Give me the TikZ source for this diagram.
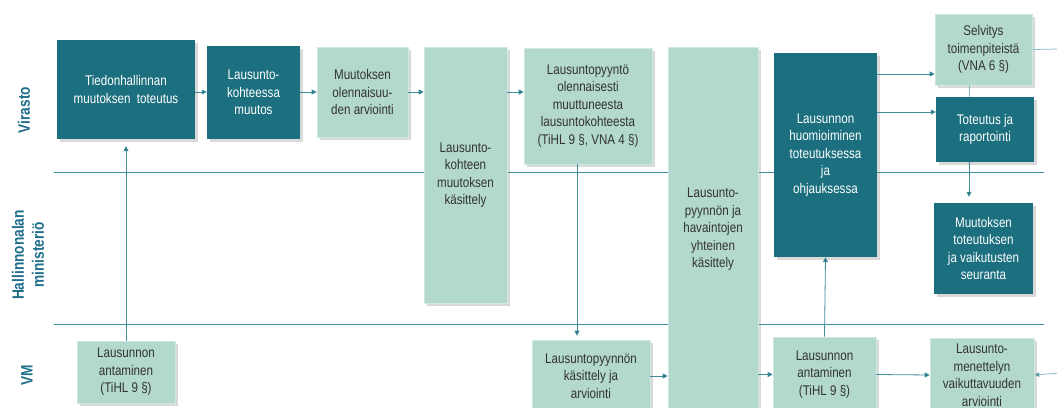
\documentclass[tikz,border=0pt]{standalone}
\usepackage{fontspec}
\setmainfont{Liberation Sans}[FakeStretch=0.83]
\usepackage{tikz}
\usetikzlibrary{arrows.meta,shadows,positioning}
\definecolor{tealdark}{HTML}{1B6F7E}
\definecolor{mint}{HTML}{B3D8CC}
\definecolor{lanecol}{HTML}{1F6E8A}
\definecolor{flowcol}{HTML}{3F8C9A}
\definecolor{palecol}{HTML}{8CBFC8}
\definecolor{boxtext}{HTML}{333333}
\def\BoxFont{\fontsize{14}{17.5}\selectfont}
\def\LaneFont{\fontsize{16.5}{20}\selectfont\bfseries}

\begin{document}
\begin{tikzpicture}[x=1pt,y=-1pt,
	box/.style={minimum width=#1,align=center,inner sep=0pt,font=\BoxFont,
		drop shadow={shadow xshift=2.5pt,shadow yshift=-2.5pt,opacity=0.3}},
	darkbox/.style={box=#1,fill=tealdark,text=white},
	lightbox/.style={box=#1,fill=mint,text=boxtext,draw=mint!60!white,line width=0.6pt},
	lane/.style={text=lanecol,font=\LaneFont,rotate=90,align=center},
	link/.style={draw=flowcol,line width=0.8pt},
	flow/.style={link,-{Triangle[length=5pt,width=5pt]},arrows={[fill=tealdark]}},
	]
	\useasboundingbox (0,0) rectangle (1057,407);
	% lanes
	\coordinate (l1a) at (54,172);
	\coordinate (l1b) at (1044,172);
	\coordinate (l2a) at (54,324);
	\coordinate (l2b) at (1044,324);
	\draw[link] (l1a) -- (l1b);
	\draw[link] (l2a) -- (l2b);
	\node[lane] (virasto) at (24,110) {Virasto};
	\node[lane] (ministerio) at (28,255) {Hallinnonalan\\ministeriö};
	\node[lane] (vm) at (27,375) {VM};
	% 
	\node[darkbox=138pt,minimum height=99pt] (tiedon) at (126,89.5) {Tiedonhallinnan\\muutoksen\ \ toteutus};
	\node[darkbox=93pt,minimum height=93pt] (kohteessa) at (253.5,92.5) {Lausunto-\\kohteessa\\muutos};
	\node[lightbox=91pt,minimum height=90pt] (olenn) at (362.5,92) {Muutoksen\\olennaisuu-\\den arviointi};
	\node[lightbox=83pt,minimum height=256pt] (kohteen) at (465.5,175) {Lausunto-\\kohteen\\muutoksen\\käsittely};
	\node[lightbox=128pt,minimum height=116pt] (pyynto) at (588,106) {Lausuntopyyntö\\olennaisesti\\muuttuneesta\\lausuntokohteesta\\(TiHL 9 §, VNA 4 §)};
	\node[lightbox=90pt,minimum height=365pt] (yhteinen) at (713,229.5) {Lausunto-\\pyynnön ja\\havaintojen\\yhteinen\\käsittely};
	\node[darkbox=103pt,minimum height=204pt] (huomio) at (825.5,155) {Lausunnon\\huomioiminen\\toteutuksessa\\ja\\ohjauksessa};
	\node[lightbox=97pt,minimum height=71pt] (selvitys) at (983.5,49.5) {Selvitys\\toimenpiteistä\\(VNA 6 §)};
	\node[darkbox=98pt,minimum height=65pt] (toteutus) at (985,129.5) {Toteutus ja\\raportointi};
	\node[darkbox=99pt,minimum height=91pt] (seuranta) at (983.5,248.5) {Muutoksen\\toteutuksen\\ja vaikutusten\\seuranta};
	% VM lane
	\node[lightbox=98pt,minimum height=62pt] (antaminenA) at (126,372) {Lausunnon\\antaminen\\(TiHL 9 §)};
	\node[lightbox=118pt,minimum height=72pt] (arviointi) at (591,376) {Lausuntopyynnön\\käsittely ja\\arviointi};
	\node[lightbox=103pt,minimum height=75pt] (antaminenB) at (824.5,374.5) {Lausunnon\\antaminen\\(TiHL 9 §)};
	\node[lightbox=104pt,minimum height=74pt] (vaikutus) at (982,375) {Lausunto-\\menettelyn\\vaikuttavuuden\\arviointi};
	% 
	\coordinate (row) at (0,92);
	\coordinate (s1) at ([yshift=-24.5pt]selvitys.west);
	\coordinate (t1) at ([yshift=17.5pt]toteutus.west);
	\coordinate (selvout) at (1060,49);
	\coordinate (vaikin) at (1060,373);
	% 
	\draw[flow] (tiedon.east |- row) -- (kohteessa.west |- row);
	\draw[flow] (kohteessa.east |- row) -- (olenn.west |- row);
	\draw[flow] (olenn.east |- row) -- (kohteen.west |- row);
	\draw[flow] (kohteen.east |- row) -- (pyynto.west |- row);
	\draw[flow,shorten >=7pt] (antaminenA.north) -- (tiedon.south);
	\draw[flow,shorten >=4pt] ([xshift=-11pt]pyynto.south) -- ([xshift=-14pt]arviointi.north);
	\draw[flow] (arviointi.east) -- (arviointi.east -| yhteinen.west);
	\draw[flow] (antaminenB.west -| yhteinen.east) -- (antaminenB.west);
	\draw[flow] (antaminenB.east) -- (vaikutus.west);
	\draw[flow] (antaminenB.north) -- (huomio.south);
	\draw[flow] (huomio.east |- s1) -- (s1);
	\draw[flow] (huomio.east |- t1) -- (t1);
	\draw[link,draw=palecol] (selvitys.east) -- (selvout);
	\draw[link,draw=palecol] ([xshift=-14.5pt]selvitys.south) -- ([xshift=-16pt]toteutus.north);
	\draw[flow,shorten >=6pt] ([xshift=-16pt]toteutus.south) -- ([xshift=-14.5pt]seuranta.north);
	\draw[flow,draw=palecol] (vaikin) -- (vaikutus.east);
\end{tikzpicture}
\end{document}
